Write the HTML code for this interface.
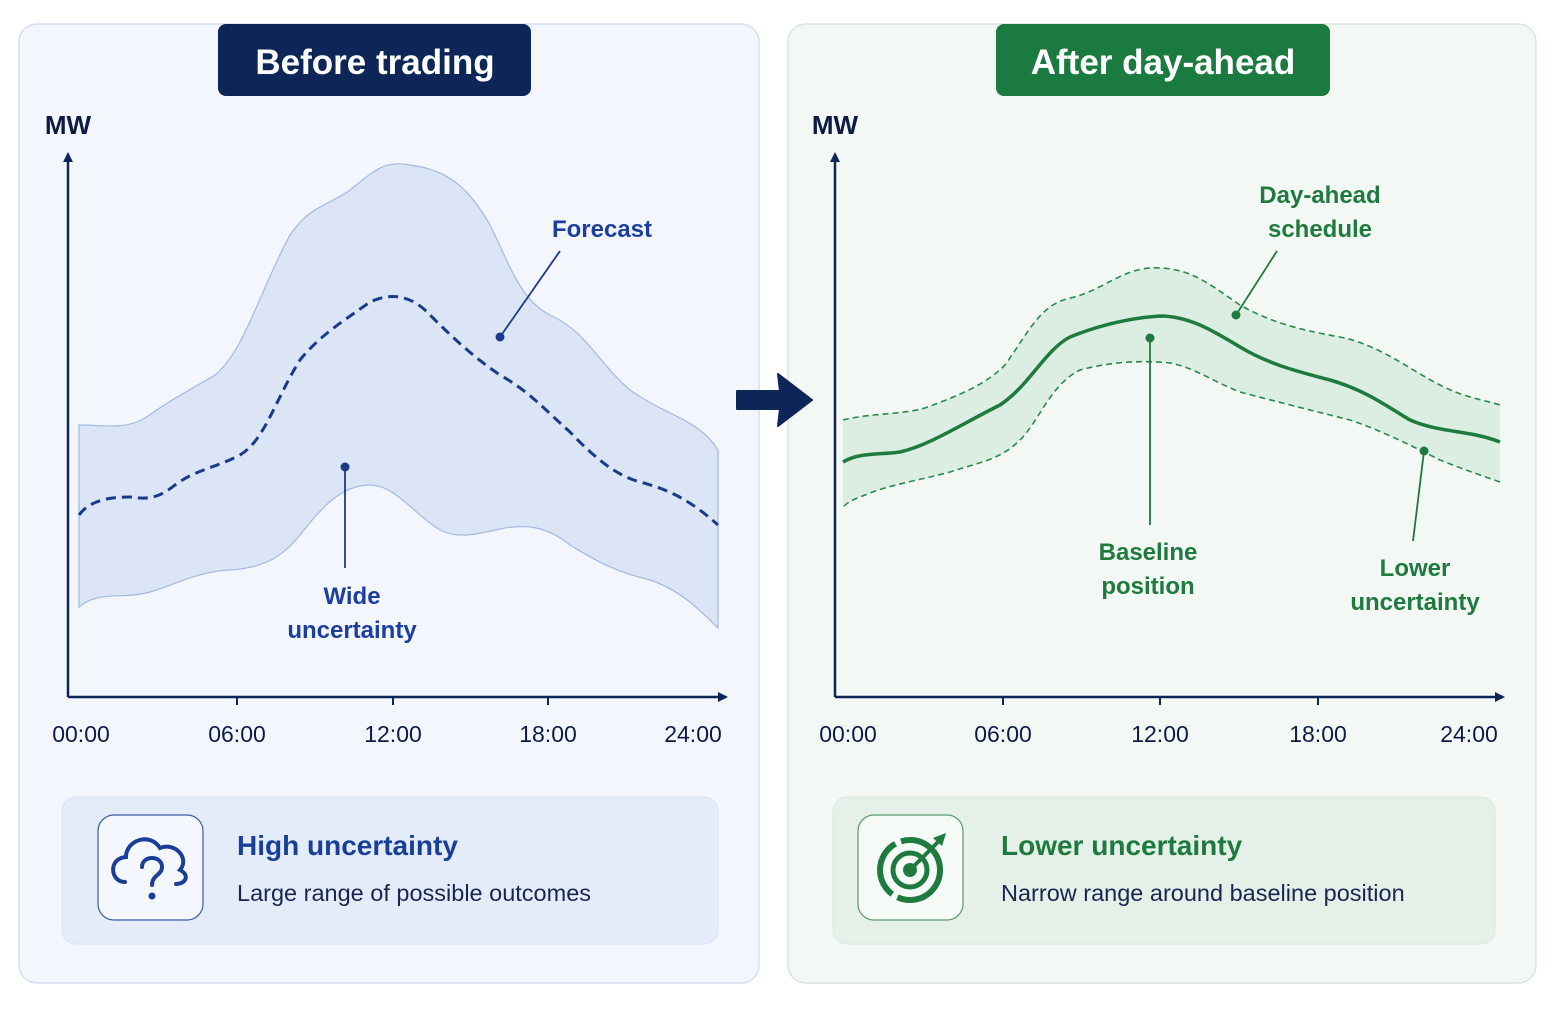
<!DOCTYPE html>
<html><head><meta charset="utf-8"><style>
html,body{margin:0;padding:0;background:#fff;}
svg{display:block;font-family:"Liberation Sans",sans-serif;}
</style></head><body>
<svg width="1557" height="1010" viewBox="0 0 1557 1010" xmlns="http://www.w3.org/2000/svg">
<defs>
<marker id="ab" markerWidth="10" markerHeight="10" refX="8" refY="5" orient="auto" markerUnits="userSpaceOnUse"><path d="M0,0 L10,5 L0,10 z" fill="#0d2657"/></marker>
</defs>
<rect width="1557" height="1010" fill="#fff"/>
<!-- Left panel -->
<rect x="19" y="24" width="740" height="959" rx="18" fill="#f3f6fc" stroke="#d5def0" stroke-width="1.5"/>
<rect x="218" y="24" width="313" height="72" rx="8" fill="#0d2657"/>
<text x="375" y="74" text-anchor="middle" font-size="35" font-weight="bold" fill="#fff">Before trading</text>
<text x="68" y="134" text-anchor="middle" font-size="26" font-weight="600" fill="#0d1b45">MW</text>
<path d="M79,425 C105,425 125,430 145,418 C170,400 190,390 215,375 C245,350 260,290 290,235 C310,205 330,205 350,190 C375,170 385,160 410,165 C450,170 470,190 490,225 C510,265 520,300 550,315 C585,330 600,365 630,390 C665,415 700,420 718,450 L718,628 C700,610 680,590 650,580 C610,570 595,560 570,545 C545,525 525,525 505,528 C480,533 460,540 440,530 C415,515 395,485 370,485 C340,485 320,510 300,535 C280,560 260,568 230,570 C195,572 175,585 150,592 C120,600 100,590 79,607 Z" fill="#dbe5f6" stroke="#a4b9e2" stroke-width="1.2"/>
<path d="M79,515 C90,500 110,497 130,497 C150,500 160,497 175,485 C195,470 215,468 240,455 C265,440 275,400 300,360 C320,335 345,320 370,302 C385,295 405,292 425,310 C445,330 470,355 500,375 C530,392 545,410 570,432 C595,458 615,475 640,482 C670,490 690,500 718,525" fill="none" stroke="#1b3a8a" stroke-width="3" stroke-dasharray="10 6"/>
<line x1="68" y1="697" x2="68" y2="154" stroke="#0d2657" stroke-width="2.5" marker-end="url(#ab)"/>
<line x1="68" y1="697" x2="726" y2="697" stroke="#0d2657" stroke-width="2.5" marker-end="url(#ab)"/>
<g stroke="#0d2657" stroke-width="2"><line x1="237" y1="697" x2="237" y2="705"/><line x1="393" y1="697" x2="393" y2="705"/><line x1="548" y1="697" x2="548" y2="705"/></g>
<g font-size="23" fill="#0d1b45" text-anchor="middle"><text x="81" y="742">00:00</text><text x="237" y="742">06:00</text><text x="393" y="742">12:00</text><text x="548" y="742">18:00</text><text x="693" y="742">24:00</text></g>
<line x1="500" y1="337" x2="560" y2="251" stroke="#1b3a8a" stroke-width="1.8"/><circle cx="500" cy="337" r="4.5" fill="#1b3a8a"/>
<text x="602" y="237" text-anchor="middle" font-size="24" font-weight="600" fill="#1b3fa0">Forecast</text>
<line x1="345" y1="467" x2="345" y2="568" stroke="#1b3a8a" stroke-width="1.8"/><circle cx="345" cy="467" r="4.5" fill="#1b3a8a"/>
<text x="352" y="604" text-anchor="middle" font-size="24" font-weight="600" fill="#1b3fa0">Wide</text>
<text x="352" y="638" text-anchor="middle" font-size="24" font-weight="600" fill="#1b3fa0">uncertainty</text>
<rect x="62" y="797" width="656" height="147" rx="14" fill="#e5ecf9" stroke="#dae2f3"/>
<rect x="98" y="815" width="105" height="105" rx="16" fill="#f4f7fd" stroke="#3a5aa8" stroke-width="1.2"/>
<path d="M125,882 C110,882 108,858 126,857 C126,840 150,832 160,848 C175,842 190,858 180,870 C190,875 186,884 176,884" fill="none" stroke="#1a3f99" stroke-width="4" stroke-linecap="round"/>
<path d="M142,867 C142,855 162,855 162,867 C162,875 152,875 152,885" fill="none" stroke="#1a3f99" stroke-width="4" stroke-linecap="round"/>
<circle cx="152" cy="896" r="3.5" fill="#1a3f99"/>
<text x="237" y="855" font-size="28" font-weight="bold" fill="#1a3f99">High uncertainty</text>
<text x="237" y="901" font-size="23.5" fill="#1a2550">Large range of possible outcomes</text>
<!-- Right panel -->
<rect x="788" y="24" width="748" height="959" rx="18" fill="#f3f8f5" stroke="#d7e6dc" stroke-width="1.5"/>
<rect x="996" y="24" width="334" height="72" rx="8" fill="#1a7a40"/>
<text x="1163" y="74" text-anchor="middle" font-size="35" font-weight="bold" fill="#fff">After day-ahead</text>
<text x="835" y="134" text-anchor="middle" font-size="26" font-weight="600" fill="#0d1b45">MW</text>
<path d="M843,420 C870,413 900,415 925,408 C960,395 985,385 1005,365 C1030,330 1040,305 1070,298 C1100,292 1120,270 1150,268 C1190,266 1210,285 1240,305 C1270,322 1300,330 1340,337 C1380,345 1410,370 1440,385 C1465,398 1485,400 1500,405 L1500,482 C1480,475 1460,468 1440,460 C1410,445 1380,430 1350,420 C1310,410 1270,400 1240,392 C1210,380 1195,368 1170,363 C1140,360 1110,362 1080,370 C1050,385 1040,420 1020,440 C1000,460 980,462 950,472 C920,480 890,485 870,493 C858,498 850,500 843,507 Z" fill="#dcede2"/>
<path d="M843,420 C870,413 900,415 925,408 C960,395 985,385 1005,365 C1030,330 1040,305 1070,298 C1100,292 1120,270 1150,268 C1190,266 1210,285 1240,305 C1270,322 1300,330 1340,337 C1380,345 1410,370 1440,385 C1465,398 1485,400 1500,405" fill="none" stroke="#2a8a4c" stroke-width="1.6" stroke-dasharray="6 4"/>
<path d="M1500,482 C1480,475 1460,468 1440,460 C1410,445 1380,430 1350,420 C1310,410 1270,400 1240,392 C1210,380 1195,368 1170,363 C1140,360 1110,362 1080,370 C1050,385 1040,420 1020,440 C1000,460 980,462 950,472 C920,480 890,485 870,493 C858,498 850,500 843,507" fill="none" stroke="#2a8a4c" stroke-width="1.6" stroke-dasharray="6 4"/>
<path d="M843,462 C860,452 880,455 900,452 C930,445 960,425 1000,405 C1030,385 1045,350 1070,337 C1100,325 1130,318 1160,316 C1190,316 1215,332 1240,347 C1270,365 1300,372 1330,380 C1365,390 1385,405 1410,420 C1440,433 1470,430 1500,442" fill="none" stroke="#1e7a3f" stroke-width="3.5"/>
<line x1="835" y1="697" x2="835" y2="154" stroke="#0d2657" stroke-width="2.5" marker-end="url(#ab)"/>
<line x1="835" y1="697" x2="1503" y2="697" stroke="#0d2657" stroke-width="2.5" marker-end="url(#ab)"/>
<g stroke="#0d2657" stroke-width="2"><line x1="1003" y1="697" x2="1003" y2="705"/><line x1="1160" y1="697" x2="1160" y2="705"/><line x1="1318" y1="697" x2="1318" y2="705"/></g>
<g font-size="23" fill="#0d1b45" text-anchor="middle"><text x="848" y="742">00:00</text><text x="1003" y="742">06:00</text><text x="1160" y="742">12:00</text><text x="1318" y="742">18:00</text><text x="1469" y="742">24:00</text></g>
<line x1="1150" y1="338" x2="1150" y2="525" stroke="#1e7a3f" stroke-width="1.8"/><circle cx="1150" cy="338" r="4.5" fill="#1e7a3f"/>
<text x="1148" y="560" text-anchor="middle" font-size="24" font-weight="600" fill="#1e7a3f">Baseline</text>
<text x="1148" y="594" text-anchor="middle" font-size="24" font-weight="600" fill="#1e7a3f">position</text>
<line x1="1236" y1="315" x2="1277" y2="251" stroke="#1e7a3f" stroke-width="1.8"/><circle cx="1236" cy="315" r="4.5" fill="#1e7a3f"/>
<text x="1320" y="203" text-anchor="middle" font-size="24" font-weight="600" fill="#1e7a3f">Day-ahead</text>
<text x="1320" y="237" text-anchor="middle" font-size="24" font-weight="600" fill="#1e7a3f">schedule</text>
<line x1="1424" y1="451" x2="1413" y2="541" stroke="#1e7a3f" stroke-width="1.8"/><circle cx="1424" cy="451" r="4.5" fill="#1e7a3f"/>
<text x="1415" y="576" text-anchor="middle" font-size="24" font-weight="600" fill="#1e7a3f">Lower</text>
<text x="1415" y="610" text-anchor="middle" font-size="24" font-weight="600" fill="#1e7a3f">uncertainty</text>
<rect x="833" y="797" width="662" height="147" rx="14" fill="#e4f0e8" stroke="#d9e9de"/>
<rect x="858" y="815" width="105" height="105" rx="16" fill="#f6faf7" stroke="#5a9a70" stroke-width="1.2"/>
<circle cx="910" cy="870" r="30" fill="none" stroke="#1e7a3f" stroke-width="6" stroke-dasharray="60 6"/>
<circle cx="910" cy="870" r="17" fill="none" stroke="#1e7a3f" stroke-width="5"/>
<circle cx="910" cy="870" r="7" fill="#1e7a3f"/>
<line x1="910" y1="870" x2="938" y2="842" stroke="#1e7a3f" stroke-width="4"/>
<path d="M933,838 L946,833 L942,846 Z" fill="#1e7a3f"/>
<text x="1001" y="855" font-size="28" font-weight="bold" fill="#1e7a3f">Lower uncertainty</text>
<text x="1001" y="901" font-size="23.5" fill="#1a2550">Narrow range around baseline position</text>
<!-- Arrow (on top) -->
<path d="M737,391 L780,391 L778,374 L812,400 L778,426 L780,409 L737,409 Z" fill="#0d2657" stroke="#0d2657" stroke-width="2" stroke-linejoin="round"/>
</svg>
</body></html>
